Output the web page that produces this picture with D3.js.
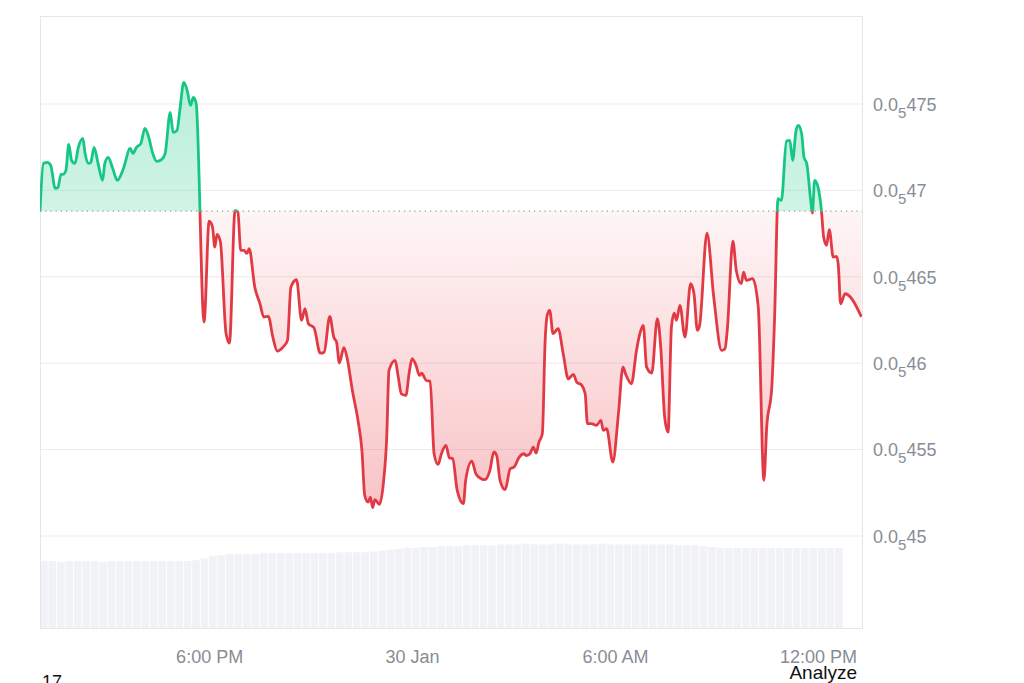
<!DOCTYPE html>
<html>
 <head>
  <meta charset="utf-8">
  <title>Price chart, 24h</title>
  <script src="https://cdnjs.cloudflare.com/ajax/libs/d3/7.8.5/d3.min.js"></script>
  <style>
    body { margin: 0; background: #fff; }
    text { font-family: "Liberation Sans", Arial, sans-serif; }
  </style>
 </head>
 <body>
  <div id="chart"></div>

  <script>
    // price in units of 1e-6 USD (0.0₅47 = 0.0000047), time in minutes from 29 Jan 13:00
    var minutes = [0,6,13,19,27,32,37,41,46,51,56,62,68,76,80,86,90,96,103,111,
      115,121,129,137,148,160,165,171,179,186,192,200,207,216,222,231,236,243,248,255,
      261,267,272,277,
      291,300,306,310,314,320,330,336,346,351,356,362,367,371,381,390,397,405,413,421,
      431,439,445,455,464,470,476,486,497,504,514,521,526,531,539,545,554,564,571,576,
      582,586,590,594,602,609,615,619,630,635,641,649,655,660,667,673,677,685,692,699,
      706,712,720,726,732,740,751,755,766,773,780,789,798,805,810,816,825,834,841,850,
      858,863,869,875,880,885,891,896,900,904,910,919,928,937,946,952,961,967,971,978,
      987,995,999,1005,1016,1026,1034,1039,1049,1058,1064,1070,1076,1085,1095,1101,1108,1114,1120,1125,
      1129,1135,1144,1154,1160,1166,1170,1183,1195,1209,1215,1219,1229,1235,1244,1248,1253,1264,1274,1284,
      1289,1298,1303,1309,1315,1324,1330,1335,1341,1345,1351,1355,1360,1367,1370,1374,1380,1386,1390,1395,
      1400,1407,1413,1416,1420,1428,1457];

    var prices = [4.688,4.7156,4.7162,4.7145,4.7012,4.7017,4.7093,4.7093,4.7116,4.7266,
      4.7174,4.7156,4.7249,4.7301,4.7214,4.7156,4.7162,4.7249,4.7156,4.7058,
      4.7156,4.7191,4.7127,4.7058,4.7127,4.7243,4.7214,4.7249,4.7272,4.7359,
      4.7318,4.7214,4.7168,4.7179,4.7214,4.7451,4.7336,4.7347,4.7463,4.7625,
      4.7579,4.7492,4.7538,4.7503,
      4.6238,4.6822,4.6788,4.6672,4.6745,4.6701,4.6172,4.6116,4.6884,4.6874,
      4.6653,4.6653,4.6635,4.6663,4.6440,4.6346,4.6267,4.6271,4.6151,4.6070,
      4.6093,4.6132,4.6440,4.6483,4.6248,4.6315,4.6229,4.6205,4.6058,4.6064,
      4.6271,4.6151,4.6122,4.6001,4.6090,4.6026,4.5843,4.5669,4.5495,4.5235,
      4.5196,4.5225,4.5164,4.5210,4.5183,4.5303,4.5572,4.5958,4.6016,4.5929,
      4.5823,4.5814,4.5949,4.6026,4.5987,4.5929,4.5943,4.5900,4.5896,4.5476,
      4.5414,4.5476,4.5524,4.5453,4.5447,4.5264,4.5187,4.5322,4.5433,4.5361,
      4.5337,4.5326,4.5380,4.5486,4.5466,4.5322,4.5268,4.5389,4.5399,4.5457,
      4.5476,4.5466,4.5476,4.5514,4.5480,4.5543,4.5592,4.6132,4.6282,4.6306,
      4.6171,4.6200,4.6055,4.5910,4.5935,4.5891,4.5872,4.5823,4.5650,4.5650,
      4.5640,4.5669,4.5611,4.5621,4.5428,4.5708,4.5977,4.5935,4.5881,4.6074,
      4.6171,4.6219,4.5977,4.5943,4.6258,4.6093,4.5688,4.5601,4.6209,4.6290,
      4.6248,4.6334,4.6151,4.6460,4.6402,4.6190,4.6219,4.6753,4.6383,4.6074,
      4.6084,4.6190,4.6707,4.6537,4.6460,4.6527,4.6479,4.6489,4.6325,4.5322,
      4.5630,4.5862,4.6267,4.6952,4.6942,4.7285,4.7289,4.7174,4.7347,4.7376,
      4.7328,4.7193,4.7155,4.6942,4.6869,4.7058,4.7019,4.6884,4.6730,4.6682,
      4.6773,4.6614,4.6618,4.6566,4.6344,4.6402,4.6268];

    // volume, one bar every 15 minutes (arbitrary units)
    var volumes = [7.6,7.6,7.5,7.6,7.6,7.6,7.6,7.5,7.6,7.6,7.6,7.6,7.6,7.6,7.6,7.6,7.6,7.6,7.7,
      7.9,8.2,8.3,
      8.4,8.4,8.4,8.4,8.5,8.5,8.5,8.5,8.5,8.5,8.5,8.5,8.5,8.6,8.6,8.6,8.6,
      8.7,8.8,8.9,9.0,9.1,9.1,9.2,
      9.2,9.3,9.3,9.3,9.4,9.4,9.4,9.4,9.5,
      9.5,9.5,9.6,9.5,9.5,9.5,9.6,9.5,9.5,9.5,9.5,9.6,9.5,9.5,9.5,9.5,9.5,9.5,9.5,9.5,9.4,9.4,9.4,
      9.3,9.2,
      9.1,9.1,9.1,9.1,9.1,9.1,9.1,9.1,9.1,9.1,9.1,9.1,9.1,9.1,9.1];

    var yTicks = [4.50, 4.55, 4.60, 4.65, 4.70, 4.75];
    var yTickDigits = ["45", "455", "46", "465", "47", "475"];
    var xTicks = ["2025-01-29T18:00", "2025-01-30T00:00", "2025-01-30T06:00", "2025-01-30T12:00"];
    var xTickLabels = ["6:00 PM", "30 Jan", "6:00 AM", "12:00 PM"];

    var start = new Date(2025, 0, 29, 13, 0);
    function toDate(m) { return new Date(start.getTime() + m * 60000); }

    var data = minutes.map(function(m, i) { return { t: toDate(m), p: prices[i] }; });
    var base = prices[0];

    var width = 1024, height = 683;
    var plotL = 40, plotR = 862, plotT = 16, plotB = 628;

    var x = d3.scaleTime()
              .domain([start, toDate(1458)])
              .range([plotL, plotR]);
    var y = d3.scaleLinear()
              .domain([4.50, 4.75])
              .range([536, 104]);
    var v = d3.scaleLinear()
              .domain([0, 10])
              .range([plotB, plotB - 88]);

    var svg = d3.select("#chart")
                .append("svg")
                .attr("width", width)
                .attr("height", height);

    var defs = svg.append("defs");
    var yBase = y(base);
    var yMax = y(d3.max(prices)), yMin = y(d3.min(prices));

    defs.append("clipPath").attr("id", "clipUp")
        .append("rect")
        .attr("x", plotL).attr("y", plotT)
        .attr("width", plotR - plotL).attr("height", yBase - plotT);
    defs.append("clipPath").attr("id", "clipDown")
        .append("rect")
        .attr("x", plotL).attr("y", yBase)
        .attr("width", plotR - plotL).attr("height", plotB - yBase);

    var gUp = defs.append("linearGradient").attr("id", "gradUp")
        .attr("gradientUnits", "userSpaceOnUse")
        .attr("x1", 0).attr("x2", 0).attr("y1", yMax).attr("y2", yBase);
    gUp.append("stop").attr("offset", 0).attr("stop-color", "#16c784").attr("stop-opacity", 0.3);
    gUp.append("stop").attr("offset", 1).attr("stop-color", "#16c784").attr("stop-opacity", 0.2);

    var gDown = defs.append("linearGradient").attr("id", "gradDown")
        .attr("gradientUnits", "userSpaceOnUse")
        .attr("x1", 0).attr("x2", 0).attr("y1", yBase).attr("y2", yMin);
    gDown.append("stop").attr("offset", 0).attr("stop-color", "#ea3943").attr("stop-opacity", 0.05);
    gDown.append("stop").attr("offset", 1).attr("stop-color", "#ea3943").attr("stop-opacity", 0.3);

    // grid lines
    svg.append("g")
       .selectAll("line")
       .data(yTicks)
       .enter().append("line")
       .attr("x1", plotL).attr("x2", plotR)
       .attr("y1", function(d) { return y(d); })
       .attr("y2", function(d) { return y(d); })
       .attr("stroke", "#ececec")
       .attr("stroke-width", 1);

    // volume bars
    var step = x(toDate(15)) - x(toDate(0));
    svg.append("g")
       .selectAll("rect")
       .data(volumes)
       .enter().append("rect")
       .attr("x", function(d, i) { return x(toDate(i * 15)); })
       .attr("y", function(d) { return v(d); })
       .attr("width", step - 0.8)
       .attr("height", function(d) { return plotB - v(d); })
       .attr("fill", "#f0f2f6");

    // frame
    svg.append("rect")
       .attr("x", plotL + 0.5).attr("y", plotT + 0.5)
       .attr("width", plotR - plotL).attr("height", plotB - plotT)
       .attr("fill", "none")
       .attr("stroke", "#e6e6e6");

    var area = d3.area()
                 .x(function(d) { return x(d.t); })
                 .y0(yBase)
                 .y1(function(d) { return y(d.p); })
                 .curve(d3.curveMonotoneX);
    var line = d3.line()
                 .x(function(d) { return x(d.t); })
                 .y(function(d) { return y(d.p); })
                 .curve(d3.curveMonotoneX);

    svg.append("path").datum(data)
       .attr("d", area).attr("fill", "url(#gradUp)")
       .attr("clip-path", "url(#clipUp)");
    svg.append("path").datum(data)
       .attr("d", area).attr("fill", "url(#gradDown)")
       .attr("clip-path", "url(#clipDown)");

    // baseline (opening price)
    svg.append("line")
       .attr("x1", plotL).attr("x2", plotR)
       .attr("y1", yBase).attr("y2", yBase)
       .attr("stroke", "#9a9a9a")
       .attr("stroke-width", 1.2)
       .attr("stroke-dasharray", "1.2,4");

    svg.append("path").datum(data)
       .attr("d", line).attr("fill", "none")
       .attr("stroke", "#16c784").attr("stroke-width", 2.8)
       .attr("stroke-linejoin", "round")
       .attr("clip-path", "url(#clipUp)");
    svg.append("path").datum(data)
       .attr("d", line).attr("fill", "none")
       .attr("stroke", "#e23a45").attr("stroke-width", 2.8)
       .attr("stroke-linejoin", "round")
       .attr("clip-path", "url(#clipDown)");

    // x axis
    var xAxis = d3.axisBottom(x)
                  .tickValues(xTicks.map(function(s) { return new Date(s); }))
                  .tickFormat(function(d, i) { return xTickLabels[i]; })
                  .tickSize(0).tickPadding(0);
    var gx = svg.append("g")
                .attr("transform", "translate(0," + 649 + ")")
                .call(xAxis);
    gx.select(".domain").remove();
    gx.selectAll("text")
      .attr("fill", "#878d96")
      .style("font-size", "18px")
      .attr("dy", "0.75em");

    // y axis, labels like 0.0₅475
    var yAxis = d3.axisRight(y).tickValues(yTicks).tickSize(0).tickFormat("");
    var gy = svg.append("g")
                .attr("transform", "translate(873,0)")
                .call(yAxis);
    gy.select(".domain").remove();
    gy.selectAll(".tick text").each(function(d, i) {
      var t = d3.select(this)
                .attr("x", 0).attr("dy", "0.35em")
                .attr("text-anchor", "start")
                .attr("fill", "#878d96")
                .style("font-size", "18px");
      t.text("");
      t.append("tspan").text("0.0");
      t.append("tspan").attr("dy", 7).style("font-size", "15px").text("5");
      t.append("tspan").attr("dy", -7).text(yTickDigits[yTicks.indexOf(d)]);
    });

    // stray page text
    svg.append("text")
       .attr("x", 42).attr("y", 688)
       .attr("fill", "#111")
       .style("font-size", "18px")
       .text("17");
    svg.append("text")
       .attr("x", 857).attr("y", 679)
       .attr("text-anchor", "end")
       .attr("fill", "#111")
       .style("font-size", "19px")
       .text("Analyze");
  </script>
 </body>
</html>
